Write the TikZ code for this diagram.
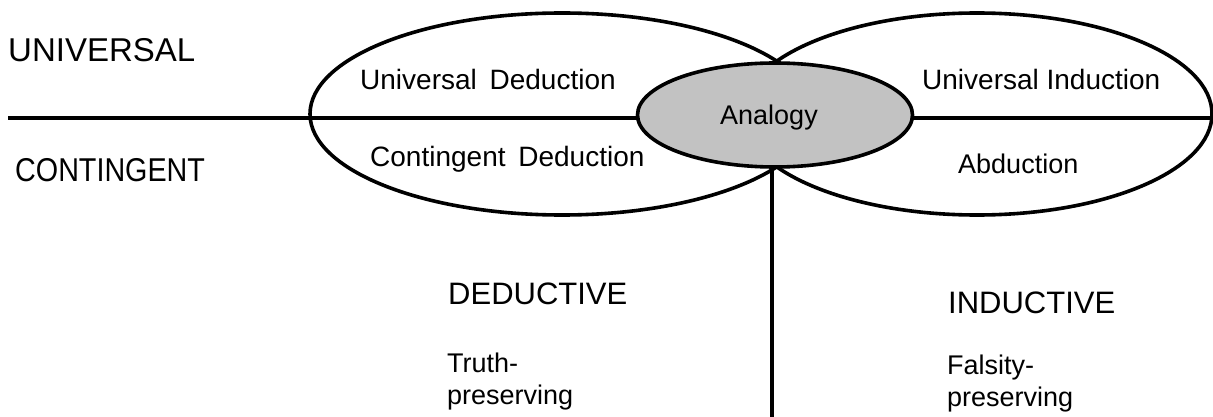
\documentclass[tikz,border=0pt]{standalone}
\usepackage{graphicx}
\usepackage{fontspec}
\setmainfont{Liberation Sans}
\usetikzlibrary{shapes.geometric}
\begin{document}
\begin{tikzpicture}[x=1pt,y=-1pt,
  lbl/.style={anchor=base west, inner sep=0pt, font=\fontsize{28}{33}\selectfont, align=left},
  two/.style={anchor=base west, inner sep=0pt, font=\fontsize{27}{32}\selectfont, align=left},
  side/.style={anchor=base west, inner sep=0pt, font=\fontsize{33}{38}\selectfont},
  big/.style={anchor=base west, inner sep=0pt, font=\fontsize{31}{36}\selectfont},
  oval/.style={ellipse, draw, line width=3.6pt, inner sep=0pt},
  rule/.style={line width=3.2pt}]
\useasboundingbox (0,0) rectangle (1213,417);
% the two big ovals
\node[oval, minimum width=504pt, minimum height=202pt] (L) at (562,114) {};
\node[oval, minimum width=470pt, minimum height=202pt] (R) at (977,114) {};
% axes
\coordinate (hl) at (8,118);
\coordinate (hr) at (1213,118);
\draw[rule] (hl) -- (hr);
\coordinate (vt) at (772,166);
\coordinate (vb) at (772,417);
\draw[rule] (vt) -- (vb);
% analogy
\node[oval, fill=black!24, minimum width=275pt, minimum height=104pt] (ana) at (775,115) {};
\node[anchor=base west, inner sep=0pt, font=\fontsize{27}{32}\selectfont] (anat) at (720,125) {Analogy};
% side labels
\node[side] (univ) at (8,62) {UNIVERSAL};
\node[side] (cont) at (15,182) {\scalebox{0.87}[1]{CONTINGENT}};
% oval texts
\node[lbl] (ud) at (360,90) {Universal\hspace{5pt} Deduction};
\node[lbl] (cd) at (370,167) {Contingent\hspace{5pt} Deduction};
\node[lbl] (ui) at (922,90) {Universal Induction};
\node[lbl, font=\fontsize{27}{32}\selectfont] (ab) at (958,173) {Abduction};
% lower labels
\node[big] (ded) at (448,304) {DEDUCTIVE};
\node[big] (ind) at (948,313) {INDUCTIVE};
\node[two] (tp) at (447,404) {Truth-\\preserving};
\node[two] (fp) at (947,406) {Falsity-\\preserving};
\end{tikzpicture}
\end{document}
